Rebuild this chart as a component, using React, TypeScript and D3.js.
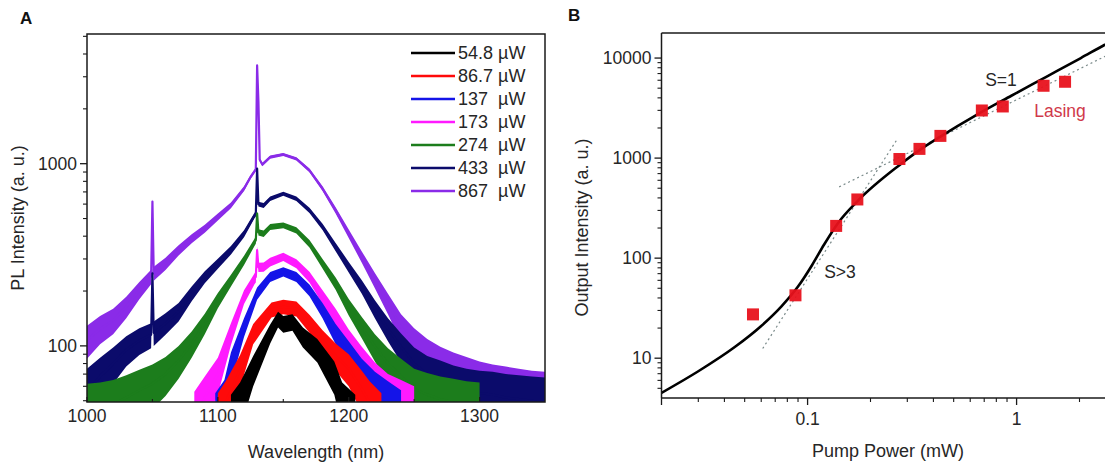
import React from 'react';
import * as d3 from 'd3';

const W = 1105;
const H = 466;

// ---------- Panel A data ----------
const wavelengthTicks = [1000, 1100, 1200, 1300];
const wavelengthMinorTicks = [1050, 1150, 1250];
const intensityTicksA = [100, 1000];
const intensityMinorA = [50, 60, 70, 80, 90, 200, 300, 400, 500, 600, 700, 800, 900, 2000, 3000, 4000, 5000];
const legendLabels = ['54.8 µW', '86.7 µW', '137  µW', '173  µW', '274  µW', '433  µW', '867  µW'];
const seriesColors = ['#000000', '#ff0a0a', '#1414e8', '#ff1aff', '#1c7d1c', '#0b0b6b', '#8a2be8'];
const spectrumNoise = [14, 15, 15, 16, 17, 18, 22];

const s548: [number, number][] = [[1110, 40], [1117, 49], [1127, 74], [1140, 117], [1146, 140], [1150, 132], [1157, 135], [1165, 112], [1176, 95], [1189, 68], [1195, 49], [1205, 40]];
const s867uw: [number, number][] = [[1100, 40], [1106, 49], [1117, 74], [1127, 117], [1141, 158], [1150, 164], [1160, 160], [1170, 133], [1180, 107], [1190, 88], [1200, 75], [1210, 58], [1216, 49], [1225, 40]];
const s137: [number, number][] = [[1098, 40], [1105, 50], [1110, 77], [1120, 127], [1130, 194], [1140, 239], [1150, 255], [1160, 239], [1170, 202], [1180, 157], [1190, 117], [1200, 91], [1210, 70], [1220, 57], [1230, 49], [1240, 42]];
const s173: [number, number][] = [[1082, 40], [1090, 52], [1100, 70], [1110, 117], [1120, 186], [1128, 234], [1129, 239], [1130, 335], [1131, 270], [1135, 271], [1140, 289], [1150, 308], [1160, 283], [1170, 239], [1180, 186], [1190, 144], [1200, 107], [1210, 83], [1220, 65], [1230, 54], [1240, 49], [1250, 44]];
const s274: [number, number][] = [[1000, 45], [1010, 46], [1020, 48], [1030, 52], [1040, 57], [1050, 62], [1060, 70], [1070, 83], [1080, 103], [1090, 133], [1100, 178], [1110, 229], [1120, 295], [1128, 370], [1129, 380], [1130, 532], [1131, 420], [1135, 413], [1140, 450], [1150, 459], [1160, 431], [1170, 364], [1180, 283], [1190, 220], [1200, 164], [1210, 127], [1220, 99], [1230, 80], [1240, 68], [1250, 58], [1260, 54], [1270, 51], [1280, 49], [1290, 47], [1300, 46]];
const s433: [number, number][] = [[1000, 57], [1010, 68], [1020, 80], [1030, 95], [1040, 107], [1049, 115], [1050, 250], [1051, 118], [1060, 133], [1070, 154], [1080, 194], [1090, 239], [1100, 283], [1110, 335], [1120, 413], [1128, 520], [1129, 530], [1130, 940], [1131, 600], [1135, 590], [1140, 642], [1150, 684], [1160, 642], [1170, 555], [1180, 450], [1190, 349], [1200, 271], [1210, 211], [1220, 160], [1230, 124], [1240, 99], [1250, 80], [1260, 70], [1270, 65], [1280, 60], [1290, 57], [1300, 55], [1310, 54], [1320, 52], [1330, 51], [1340, 50], [1350, 49]];
const s867: [number, number][] = [[1000, 107], [1010, 124], [1020, 138], [1030, 164], [1040, 202], [1049, 240], [1050, 620], [1051, 250], [1060, 283], [1070, 335], [1080, 388], [1090, 440], [1100, 510], [1110, 591], [1120, 729], [1125, 845], [1129, 930], [1130, 3460], [1131, 2200], [1132, 1050], [1134, 990], [1140, 1088], [1150, 1124], [1160, 1064], [1170, 919], [1180, 729], [1190, 555], [1200, 413], [1210, 308], [1220, 229], [1230, 171], [1240, 127], [1250, 103], [1260, 87], [1270, 77], [1280, 70], [1290, 65], [1300, 60], [1310, 57], [1320, 55], [1330, 53], [1340, 51], [1350, 50]];
const spectra = [s548, s867uw, s137, s173, s274, s433, s867];

// ---------- Panel B data ----------
const pumpPower = [0.0548, 0.0875, 0.137, 0.173, 0.275, 0.343, 0.432, 0.682, 0.859, 1.346, 1.706];
const outputIntensity = [27.4, 42.5, 210, 386, 979, 1236, 1667, 2992, 3282, 5285, 5795];
const fitPower = [0.02, 0.03, 0.045, 0.06, 0.075, 0.09, 0.105, 0.12, 0.14, 0.173, 0.275, 0.343, 0.432, 0.644, 0.944, 1.38, 2.03, 2.63, 3.3];
const fitIntensity = [4.5, 7.4, 13, 21, 33, 52, 85, 137, 225, 370, 850, 1200, 1640, 2706, 4200, 6455, 10000, 13500, 17300];
const slope3Line: [number, number][] = [[0.061, 12.5], [0.27, 1574]];
const slope1Line: [number, number][] = [[0.1416, 516], [2.8, 11000]];
const powerTicks = [0.1, 1];
const powerMinorTicks = [0.03, 0.04, 0.05, 0.06, 0.07, 0.08, 0.09, 0.2, 0.3, 0.4, 0.5, 0.6, 0.7, 0.8, 0.9, 2, 3, 4];
const outputTicks = [10, 100, 1000, 10000];
const outputMinorTicks = [5, 6, 7, 8, 9, 20, 30, 40, 50, 60, 70, 80, 90, 200, 300, 400, 500, 600, 700, 800, 900, 2000, 3000, 4000, 5000, 6000, 7000, 8000, 9000];

const FONT = '"Liberation Sans", Arial, sans-serif';
const TXT = '#262626';

export default function App() {
  // Panel A geometry
  const aL = 87, aR = 545, aT = 34, aB = 402;
  const xA = d3.scaleLinear().domain([1000, 1350]).range([aL, aR]);
  const yA = d3.scaleLog().domain([49.2, 5150]).range([aB, aT]);

  // Panel B geometry
  const bL = 661.5, bT = 33, bB = 398;
  const xB = d3.scaleLog().domain([0.02, 5]).range([bL, bL + 209 * Math.log10(5 / 0.02)]);
  const yB = d3.scaleLog().domain([4, 17800]).range([bB, bT]);

  const lineA = d3.line<[number, number]>().x(d => xA(d[0])).y(d => yA(Math.max(d[1], 1)));
  const areaA = (n: number) =>
    d3.area<[number, number]>()
      .x(d => xA(d[0]))
      .y0(d => yA(Math.max(d[1] - n, 1)))
      .y1(d => yA(d[1] + n));

  const fitPts: [number, number][] = fitPower.map((p, i) => [p, fitIntensity[i]]);
  const fitLine = d3.line<[number, number]>().x(d => xB(d[0])).y(d => yB(d[1])).curve(d3.curveMonotoneX);
  const straight = d3.line<[number, number]>().x(d => xB(d[0])).y(d => yB(d[1]));

  const order = [6, 5, 4, 3, 2, 1, 0];

  return (
    <svg width={W} height={H} style={{ display: 'block', position: 'absolute', left: 0, top: 0, background: '#fff' }} fontFamily={FONT}>
      <defs>
        <clipPath id="clipA"><rect x={aL} y={aT} width={aR - aL} height={aB - aT} /></clipPath>
        <clipPath id="clipB"><rect x={bL} y={bT} width={W - bL} height={bB - bT} /></clipPath>
      </defs>
      <rect x={0} y={0} width={W} height={H} fill="#fff" />

      {/* ---------------- Panel A ---------------- */}
      <text x={20} y={24} fontSize={17} fontWeight="bold" fill="#111">A</text>
      <g clipPath="url(#clipA)">
        {order.map(i => (
          <g key={i}>
            <path d={areaA(spectrumNoise[i])(spectra[i]) || ''} fill={seriesColors[i]} stroke="none" />
            <path d={lineA(spectra[i]) || ''} fill="none" stroke={seriesColors[i]} strokeWidth={2.2} strokeLinejoin="round" />
          </g>
        ))}
      </g>
      <rect x={aL} y={aT} width={aR - aL} height={aB - aT} fill="none" stroke="#1a1a1a" strokeWidth={1.5} />
      {intensityTicksA.map(t => (
        <g key={t}>
          <line x1={aL - 7} x2={aL} y1={yA(t)} y2={yA(t)} stroke="#1a1a1a" strokeWidth={1.3} />
          <text x={aL - 10} y={yA(t)} dy="0.36em" textAnchor="end" fontSize={17.5} fill={TXT}>{t}</text>
        </g>
      ))}
      {intensityMinorA.filter(t => yA(t) >= aT && yA(t) <= aB).map(t => (
        <line key={t} x1={aL - 4} x2={aL} y1={yA(t)} y2={yA(t)} stroke="#1a1a1a" strokeWidth={1.1} />
      ))}
      {wavelengthTicks.map(t => (
        <g key={t}>
          <line x1={xA(t)} x2={xA(t)} y1={aB} y2={aB - 5} stroke="#1a1a1a" strokeWidth={1.2} />
          <text x={xA(t)} y={aB + 20} textAnchor="middle" fontSize={17.5} fill={TXT}>{t}</text>
        </g>
      ))}
      {wavelengthMinorTicks.map(t => (
        <line key={t} x1={xA(t)} x2={xA(t)} y1={aB} y2={aB - 3} stroke="#1a1a1a" strokeWidth={1.1} />
      ))}
      <text x={(aL + aR) / 2} y={458} textAnchor="middle" fontSize={18} fill={TXT}>Wavelength (nm)</text>
      <text transform={`translate(24,${(aT + aB) / 2}) rotate(-90)`} textAnchor="middle" fontSize={18} fill={TXT}>PL Intensity (a. u.)</text>
      {legendLabels.map((lab, i) => (
        <g key={lab}>
          <line x1={411} x2={455} y1={53 + i * 23} y2={53 + i * 23} stroke={seriesColors[i]} strokeWidth={2.6} />
          <text x={458} y={53 + i * 23} dy="0.36em" fontSize={18} fill={TXT} style={{ whiteSpace: 'pre' }}>{lab}</text>
        </g>
      ))}

      {/* ---------------- Panel B ---------------- */}
      <text x={568} y={21} fontSize={17} fontWeight="bold" fill="#111">B</text>
      <g clipPath="url(#clipB)">
        <path d={straight(slope3Line) || ''} fill="none" stroke="#7a8a8a" strokeWidth={1.2} strokeDasharray="2,3" />
        <path d={straight(slope1Line) || ''} fill="none" stroke="#7a8a8a" strokeWidth={1.2} strokeDasharray="2,3" />
        <path d={fitLine(fitPts) || ''} fill="none" stroke="#000" strokeWidth={2.6} />
        {pumpPower.map((p, i) => (
          <rect key={i} x={xB(p) - 6} y={yB(outputIntensity[i]) - 6} width={12} height={12} fill="#e8121c" opacity={0.95} />
        ))}
      </g>
      <line x1={bL} x2={W} y1={bT} y2={bT} stroke="#1a1a1a" strokeWidth={1.5} />
      <line x1={bL} x2={bL} y1={bT} y2={bB} stroke="#1a1a1a" strokeWidth={1.5} />
      <line x1={bL} x2={W} y1={bB} y2={bB} stroke="#1a1a1a" strokeWidth={1.5} />
      {outputTicks.map(t => (
        <g key={t}>
          <line x1={bL - 7} x2={bL} y1={yB(t)} y2={yB(t)} stroke="#1a1a1a" strokeWidth={1.3} />
          <text x={bL - 10} y={yB(t)} dy="0.36em" textAnchor="end" fontSize={17.5} fill={TXT}>{t}</text>
        </g>
      ))}
      {outputMinorTicks.map(t => (
        <line key={t} x1={bL - 4} x2={bL} y1={yB(t)} y2={yB(t)} stroke="#1a1a1a" strokeWidth={1.1} />
      ))}
      {powerTicks.map(t => (
        <g key={t}>
          <line x1={xB(t)} x2={xB(t)} y1={bB} y2={bB + 7} stroke="#1a1a1a" strokeWidth={1.3} />
          <text x={xB(t)} y={bB + 27} textAnchor="middle" fontSize={17.5} fill={TXT}>{t}</text>
        </g>
      ))}
      {powerMinorTicks.map(t => (
        <line key={t} x1={xB(t)} x2={xB(t)} y1={bB} y2={bB + 4} stroke="#1a1a1a" strokeWidth={1.1} />
      ))}
      <line x1={bL} x2={bL} y1={bB} y2={bB + 7} stroke="#1a1a1a" strokeWidth={1.3} />
      <text x={888} y={457} textAnchor="middle" fontSize={18} fill={TXT}>Pump Power (mW)</text>
      <text transform={`translate(588,${(bT + bB) / 2 + 12}) rotate(-90)`} textAnchor="middle" fontSize={18} fill={TXT}>Output Intensity (a. u.)</text>
      <text x={840} y={272} dy="0.36em" textAnchor="middle" fontSize={17.5} fill={TXT}>S&gt;3</text>
      <text x={1001} y={80} dy="0.36em" textAnchor="middle" fontSize={17.5} fill={TXT}>S=1</text>
      <text x={1060} y={111} dy="0.36em" textAnchor="middle" fontSize={17.5} fill="#d0394a">Lasing</text>
    </svg>
  );
}
